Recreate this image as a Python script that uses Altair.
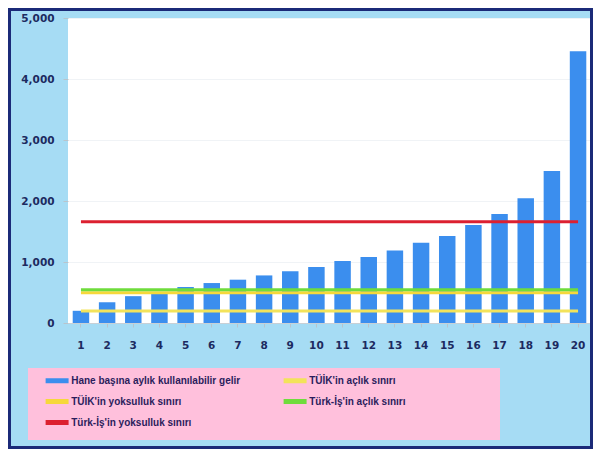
import altair as alt
import pandas as pd

# ---- data ----
categories = list(range(1, 21))
income = [200, 340, 440, 480, 590, 655, 710, 780, 850, 920,
          1015, 1080, 1190, 1315, 1425, 1605, 1785, 2045, 2490, 4455]

series_names = [
    "Hane başına aylık kullanılabilir gelir",
    "TÜİK'in açlık sınırı",
    "TÜİK'in yoksulluk sınırı",
    "Türk-İş'in açlık sınırı",
    "Türk-İş'in yoksulluk sınırı",
]
threshold_names = series_names[1:]
threshold_values = [195, 495, 545, 1660]
series_colors = ["#3b8eee", "#f3e35a", "#f6d83a", "#6fdc3c", "#dc2030"]
line_widths = [3, 3, 4, 1.8]

y_ticks = list(range(0, 5001, 500))

bars_df = pd.DataFrame({
    "cat": categories,
    "value": income,
    "series": [series_names[0]] * len(categories),
})
lines_df = pd.DataFrame([
    {"cat": c, "value": v, "series": n}
    for n, v in zip(threshold_names, threshold_values)
    for c in categories
])

label_font = "DejaVu Sans"
label_color = "#1c2a60"

legend = alt.Legend(
    title=None, orient="none", legendX=-40, legendY=353,
    columns=2, direction="horizontal",
    padding=4, symbolOffset=19.6,
    symbolType="M-4,0H4", symbolSize=33, symbolStrokeWidth=5,
    labelFont="Liberation Sans", labelFontSize=10, labelFontWeight="bold",
    labelColor="#2b1d5c", labelLimit=300, labelOffset=8.6,
    columnPadding=29, rowPadding=0,
)

color = alt.Color(
    "series:N",
    scale=alt.Scale(domain=series_names, range=series_colors),
    legend=legend,
)

x_enc = alt.X(
    "cat:O",
    scale=alt.Scale(paddingInner=0.37, paddingOuter=0.18),
    axis=alt.Axis(
        title=None, labelAngle=0, labelFont=label_font, labelFontSize=10.5,
        labelFontWeight="bold", labelColor=label_color, labelPadding=13,
        tickSize=4, tickColor="#b8c4cc", domainColor="#c8d0d6",
    ),
)
y_enc = alt.Y(
    "value:Q",
    scale=alt.Scale(domain=[0, 5000], nice=False),
    axis=alt.Axis(
        title=None, values=y_ticks, format=",d", labelFont=label_font,
        labelFontSize=10.5, labelFontWeight="bold", labelColor=label_color,
        tickSize=5, tickColor="#b8c4cc", labelPadding=9, domain=False,
        grid=True, gridColor="#f0f3f6",
    ),
)

# decorative legend panel (pink box) and outer frame
legend_box = alt.Chart(pd.DataFrame({"f": [0]})).mark_rect(
    fill="#ffc0dc", clip=False
).encode(
    x=alt.value(-40), x2=alt.value(432),
    y=alt.value(350), y2=alt.value(422),
)

bars = alt.Chart(bars_df).mark_bar().encode(x=x_enc, y=y_enc, color=color)

lines = alt.Chart(lines_df).mark_line().encode(
    x=alt.X("cat:O", bandPosition=0.5),
    y="value:Q",
    color=color,
    strokeWidth=alt.StrokeWidth(
        "series:N",
        scale=alt.Scale(domain=threshold_names, range=line_widths),
        legend=None,
    ),
)

frame = alt.Chart(pd.DataFrame({"f": [0]})).mark_rect(
    fill="transparent", stroke="#1b2a78", strokeWidth=3, clip=False
).encode(
    x=alt.value(-58.5), x2=alt.value(523.5),
    y=alt.value(-8.5), y2=alt.value(429.5),
)

chart = alt.layer(legend_box, bars, lines, frame).properties(
    width=523, height=305,
    autosize=alt.AutoSizeParams(type="none"),
    padding={"left": 60, "top": 10, "right": 2, "bottom": 126},
    background="#a6dcf4",
).configure_view(fill="white", strokeWidth=0)

chart.save("out.html", embed_options={"renderer": "svg", "actions": False})
